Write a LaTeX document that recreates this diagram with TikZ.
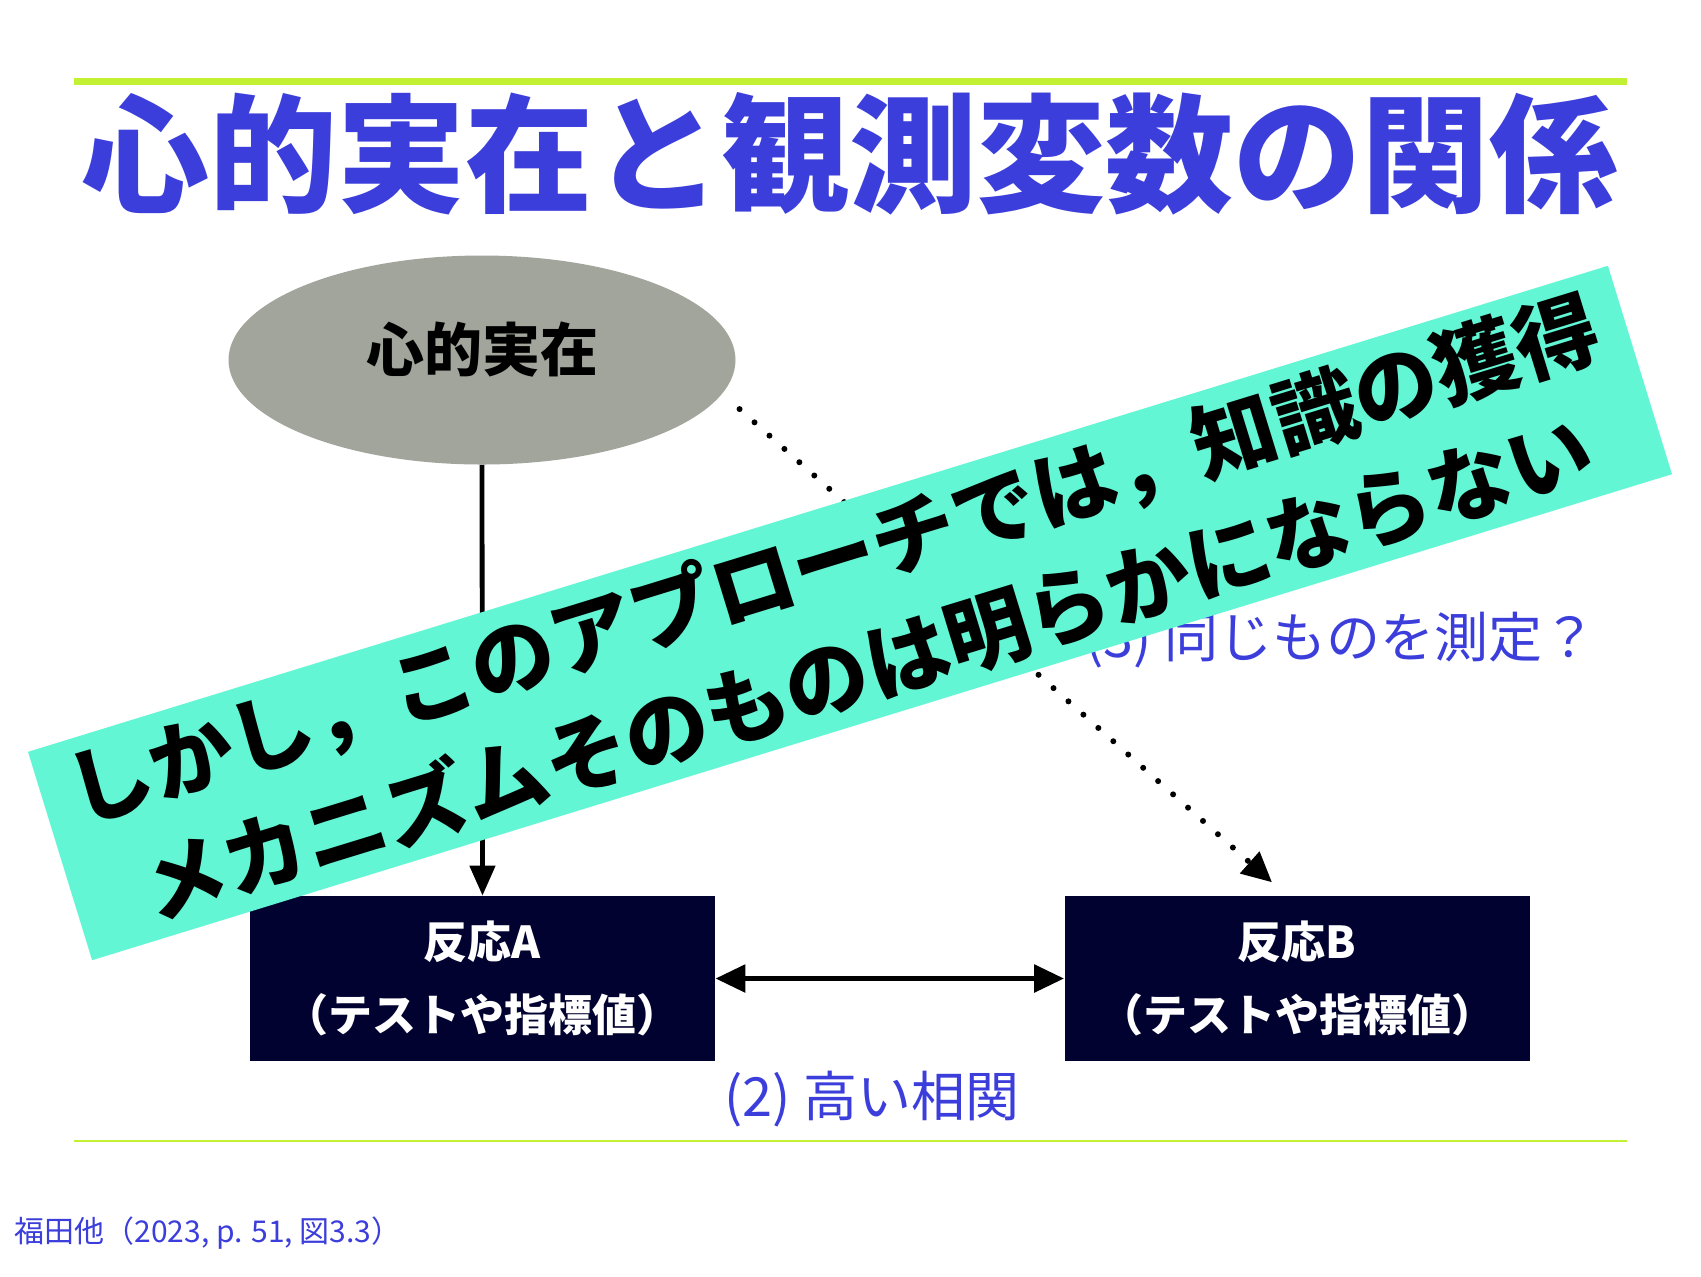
\documentclass[tikz,border=0pt]{standalone}
\usepackage{fontspec}
\setmainfont{Noto Sans CJK JP}
\usetikzlibrary{arrows.meta,shapes.geometric}
\definecolor{titleblue}{HTML}{3C3EDC}
\definecolor{rulelime}{HTML}{C2F032}
\definecolor{mindgray}{HTML}{A2A59C}
\definecolor{boxnavy}{HTML}{020230}
\definecolor{bannermint}{HTML}{62F6D4}
\begin{document}
\begin{tikzpicture}[x=0.5pt,y=-0.5pt,
  resp/.style={fill=boxnavy, text=white, font=\fontsize{22}{36.5}\selectfont\bfseries,
    minimum width=232.5pt, minimum height=82.5pt, align=center, inner sep=0pt},
  note/.style={text=titleblue, font=\fontsize{27}{32}\selectfont},
  arr/.style={line width=2.4pt, -{Triangle[width=12.5pt,length=15pt]}}]
\useasboundingbox (0,0) rectangle (1701,1276);
\fill[white] (0,0) rectangle (1701,1276);

\draw[rulelime, line width=3.5pt] (74,81) -- (1627,81);
\draw[rulelime, line width=1pt] (74,1141) -- (1627,1141);

\node[text=titleblue, font=\fontsize{64}{66}\selectfont\bfseries] (title) at (849,154) {心的実在と観測変数の関係};

\node[ellipse, fill=mindgray, minimum width=253.5pt, minimum height=104.5pt, inner sep=0pt,
  text height=25.5pt, text depth=14.5pt,
  font=\fontsize{29}{30}\selectfont\bfseries] (mind) at (482,360) {心的実在};

\node[resp] (respA) at (482.5,978.5) {反応A\\（テストや指標値）};
\node[resp] (respB) at (1297,978.5) {反応B\\（テストや指標値）};

\draw[arr] (mind.south) -- (respA.north);
\draw[line width=2.8pt, {Triangle[width=13.5pt,length=15pt]}-{Triangle[width=13.5pt,length=15pt]}] (respA.east) -- (respB.west);
\draw[line width=3pt, line cap=round, dash pattern=on 0pt off 10pt, shorten <=11.5pt, shorten >=10pt,
  -{Triangle[width=14pt,length=15pt]}] (mind.-8) -- ([xshift=-5pt]respB.north);

\node[note] (corr) at (872,1099) {(2) 高い相関};
\node[note] (same) at (1341,640) {(3) 同じものを測定？};

\node[text=titleblue, anchor=west, inner sep=0pt, font=\fontsize{15}{16}\selectfont] (cite) at (14,1233) {福田他（2023, p. 51, 図3.3）};

% banner over the diagram
\node[fill=bannermint, rotate=17.1, minimum width=826.5pt, minimum height=109pt, inner sep=0pt,
  align=center, font=\fontsize{42}{57}\selectfont\bfseries] (banner) at (850,613)
  {しかし，このアプローチでは，知識の獲得\\メカニズムそのものは明らかにならない};
\end{tikzpicture}
\end{document}
